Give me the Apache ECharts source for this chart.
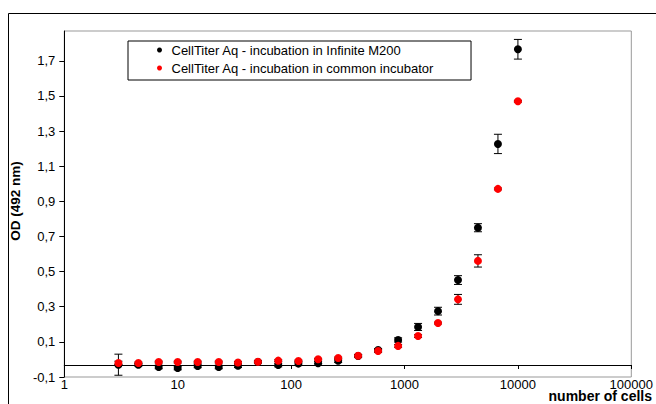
<!DOCTYPE html>
<html>
<head>
<meta charset="utf-8">
<script src="https://cdn.jsdelivr.net/npm/echarts@6/dist/echarts.min.js"></script>
<style>
  html, body { margin: 0; padding: 0; background: #fff; }
  #chart { width: 656px; height: 404px; }
</style>
</head>
<body>
<div id="chart"></div>
<script>
// number of cells per well (1.5x dilution series)
const cells = [3, 4.5, 6.8, 10, 15, 23, 34, 51, 77, 116, 173, 260, 390, 585, 878, 1317, 1975, 2963, 4444, 6667, 10000]

// OD at 492 nm, incubation in Infinite M200
const odInfinite = [-0.03, -0.03, -0.043, -0.049, -0.037, -0.043, -0.036, -0.015, -0.032, -0.024, -0.022, -0.007, 0.02, 0.054, 0.111, 0.185, 0.275, 0.452, 0.75, 1.227, 1.766]
const errInfinite = [0.06, 0.008, 0.01, 0.01, 0.01, 0.01, 0.01, 0.005, 0.01, 0.01, 0.01, 0.01, 0.008, 0.008, 0.012, 0.02, 0.022, 0.025, 0.023, 0.055, 0.056]

// OD at 492 nm, incubation in common incubator
const odCommon = [-0.02, -0.02, -0.015, -0.015, -0.015, -0.015, -0.017, -0.013, -0.007, -0.009, 0.001, 0.008, 0.021, 0.048, 0.077, 0.133, 0.207, 0.342, 0.561, 0.971, 1.47]
const errCommon = [0.01, 0.005, 0.005, 0.005, 0.005, 0.005, 0.005, 0.005, 0.005, 0.005, 0.005, 0.005, 0.005, 0.008, 0.008, 0.008, 0.005, 0.028, 0.035, 0.005, 0.005]

const yTicks = [-0.1, 0.1, 0.3, 0.5, 0.7, 0.9, 1.1, 1.3, 1.5, 1.7]

const FONT = 'Liberation Sans, Arial, sans-serif'

const chart = echarts.init(document.getElementById('chart'), null, { renderer: 'svg' })

function points(od, err) {
  return cells.map((c, i) => [c, od[i], err[i]])
}

function errorBars(data, z) {
  return {
    type: 'custom',
    z: z,
    silent: true,
    data: data,
    encode: { x: 0, y: 1 },
    renderItem: (params, api) => {
      const x = api.value(0), y = api.value(1), e = api.value(2)
      const top = api.coord([x, y + e])
      const bot = api.coord([x, y - e])
      const hw = 4
      const st = { stroke: '#000', lineWidth: 1 }
      return {
        type: 'group',
        children: [
          { type: 'line', shape: { x1: top[0], y1: top[1], x2: bot[0], y2: bot[1] }, style: st },
          { type: 'line', shape: { x1: top[0] - hw, y1: top[1], x2: top[0] + hw, y2: top[1] }, style: st },
          { type: 'line', shape: { x1: bot[0] - hw, y1: bot[1], x2: bot[0] + hw, y2: bot[1] }, style: st },
        ],
      }
    },
  }
}

const axisX = {
  type: 'log',
  logBase: 10,
  min: 1,
  max: 100000,
  splitLine: { show: false },
  minorTick: { show: false },
}

chart.setOption({
  animation: false,
  textStyle: { fontFamily: FONT },
  grid: {
    left: 64, top: 31, right: 19, bottom: 27,
    show: true, borderColor: '#999', borderWidth: 1,
  },
  legend: {
    orient: 'vertical',
    left: 128, top: 41,
    padding: [1, 37, 4, 29],
    itemGap: 2,
    itemWidth: 14, itemHeight: 5,
    icon: 'circle',
    borderColor: '#000', borderWidth: 1,
    textStyle: { fontFamily: FONT, fontSize: 13, color: '#000', lineHeight: 16 },
    data: ['CellTiter Aq - incubation in Infinite M200', 'CellTiter Aq - incubation in common incubator'],
  },
  xAxis: [
    Object.assign({}, axisX, {
      axisLine: { show: false },
      axisTick: { show: false },
      axisLabel: { color: '#000', fontSize: 13, margin: 1, fontFamily: FONT, formatter: v => String(v) },
    }),
    Object.assign({}, axisX, {
      position: 'bottom',
      offset: -12,
      axisLine: { show: true, lineStyle: { color: '#000', width: 1 } },
      axisTick: { show: true, length: 4, lineStyle: { color: '#000' } },
      axisLabel: { show: false },
    }),
  ],
  yAxis: {
    type: 'value',
    min: -0.1,
    max: 1.87,
    name: 'OD (492 nm)',
    nameLocation: 'middle',
    nameGap: 28,
    nameTextStyle: { fontFamily: FONT, fontSize: 13.5, fontWeight: 'bold', color: '#000', padding: [0, 0, 0, 6] },
    splitLine: { show: false },
    axisLine: { show: true, lineStyle: { color: '#000', width: 1 } },
    axisTick: { show: true, length: 5, lineStyle: { color: '#000' }, customValues: yTicks },
    axisLabel: {
      color: '#000', fontSize: 13, margin: 9, fontFamily: FONT,
      customValues: yTicks,
      formatter: v => v.toFixed(1).replace('.', ','),
    },
  },
  graphic: [
    {
      type: 'rect',
      shape: { x: 8.5, y: 13.5, width: 700, height: 500 },
      style: { fill: 'none', stroke: '#000', lineWidth: 1 },
      silent: true,
    },
    {
      type: 'text',
      right: 4, top: 389,
      style: { text: 'number of cells', font: 'bold 14px ' + FONT, fill: '#000' },
    },
  ],
  series: [
    errorBars(points(odInfinite, errInfinite), 2),
    {
      name: 'CellTiter Aq - incubation in Infinite M200',
      type: 'scatter',
      z: 3,
      symbol: 'circle',
      symbolSize: 8,
      itemStyle: { color: '#000', opacity: 1 },
      data: points(odInfinite, errInfinite),
    },
    errorBars(points(odCommon, errCommon), 4),
    {
      name: 'CellTiter Aq - incubation in common incubator',
      type: 'scatter',
      z: 5,
      symbol: 'circle',
      symbolSize: 8,
      itemStyle: { color: '#ff0000', opacity: 1 },
      data: points(odCommon, errCommon),
    },
  ],
})
</script>
</body>
</html>
